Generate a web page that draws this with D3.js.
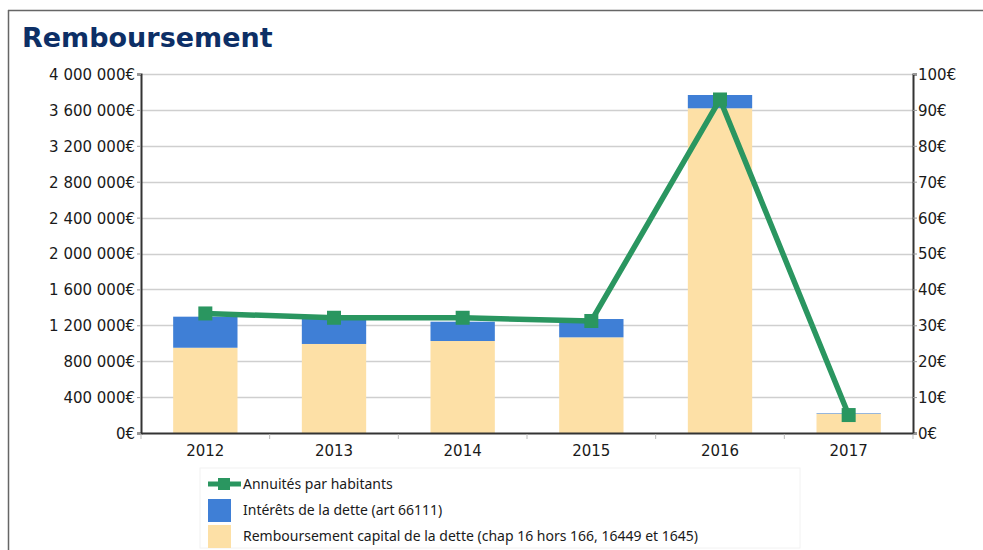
<!DOCTYPE html>
<html>
<head>
<meta charset="utf-8">
<script src="https://cdn.jsdelivr.net/npm/d3@7"></script>
<style>
  body { margin: 0; background: #fff; }
  svg { display: block; }
</style>
</head>
<body>
<div id="chart"></div>
<script>
const years = ["2012", "2013", "2014", "2015", "2016", "2017"];
const capital = [950000, 992000, 1025000, 1066000, 3618000, 215000];
const interets = [346000, 278000, 215000, 204000, 148000, 6000];
const annuites = [33.3, 32.1, 32.1, 31.2, 92.9, 5.0];
const leftTicks = [0, 400000, 800000, 1200000, 1600000, 2000000, 2400000, 2800000, 3200000, 3600000, 4000000];
const rightTicks = [0, 10, 20, 30, 40, 50, 60, 70, 80, 90, 100];
const legendLabels = ["Annuités par habitants", "Intérêts de la dette (art 66111)", "Remboursement capital de la dette (chap 16 hors 166, 16449 et 1645)"];

const colCapital = "#fde0a6";
const colInterets = "#3f7fd6";
const colLine = "#2a9660";

const width = 983, height = 550;
const margin = {top: 74, right: 70, bottom: 117, left: 141};

const fr = d3.formatLocale({decimal: ",", thousands: "\u00a0", grouping: [3], currency: ["", "€"]});
const fmt = fr.format(",d");

const svg = d3.select("#chart").append("svg")
    .attr("width", width)
    .attr("height", height);

// frame lines (top + left)
svg.append("line").attr("x1", 8).attr("x2", width).attr("y1", 10.5).attr("y2", 10.5)
    .attr("stroke", "#666").attr("stroke-width", 1.5);
svg.append("line").attr("x1", 8.5).attr("x2", 8.5).attr("y1", 10).attr("y2", height)
    .attr("stroke", "#666").attr("stroke-width", 1.5);

svg.append("text")
    .attr("x", 22).attr("y", 47)
    .attr("font-family", "DejaVu Sans")
    .attr("font-weight", "bold")
    .attr("font-size", 27)
    .attr("fill", "#0d2f66")
    .text("Remboursement");

const x = d3.scaleBand()
    .domain(years)
    .range([margin.left, width - margin.right])
    .paddingInner(0.5)
    .paddingOuter(0.25);

const y = d3.scaleLinear()
    .domain([0, 4000000])
    .range([height - margin.bottom, margin.top]);

const y2 = d3.scaleLinear()
    .domain([0, 100])
    .range([height - margin.bottom, margin.top]);

// grid
svg.append("g")
    .selectAll("line")
    .data(leftTicks.slice(1))
    .join("line")
    .attr("x1", margin.left).attr("x2", width - margin.right)
    .attr("y1", d => Math.round(y(d)) + 0.5).attr("y2", d => Math.round(y(d)) + 0.5)
    .attr("stroke", "#cfcfcf").attr("stroke-width", 1.5);

// bars
const bars = svg.append("g");
bars.selectAll("rect.cap")
    .data(years)
    .join("rect")
    .attr("class", "cap")
    .attr("x", d => x(d))
    .attr("width", x.bandwidth())
    .attr("y", (d, i) => y(capital[i]))
    .attr("height", (d, i) => y(0) - y(capital[i]))
    .attr("fill", colCapital);
bars.selectAll("rect.int")
    .data(years)
    .join("rect")
    .attr("class", "int")
    .attr("x", d => x(d))
    .attr("width", x.bandwidth())
    .attr("y", (d, i) => y(capital[i] + interets[i]))
    .attr("height", (d, i) => y(capital[i]) - y(capital[i] + interets[i]))
    .attr("fill", colInterets);

// axes
const leftAxis = svg.append("g")
    .attr("transform", `translate(${margin.left},0)`)
    .call(d3.axisLeft(y).tickValues(leftTicks).tickFormat(d => fmt(d) + "€").tickSize(4).tickPadding(2));
const rightAxis = svg.append("g")
    .attr("transform", `translate(${width - margin.right},0)`)
    .call(d3.axisRight(y2).tickValues(rightTicks).tickFormat(d => d + "€").tickSize(4).tickPadding(1));
const bottomAxis = svg.append("g")
    .attr("transform", `translate(0,${height - margin.bottom})`)
    .call(d3.axisBottom(x).tickSize(0).tickPadding(12));

[leftAxis, rightAxis, bottomAxis].forEach(a => {
    a.selectAll("text")
        .attr("font-family", "DejaVu Sans")
        .attr("font-size", 15)
        .attr("fill", "#1a1a1a");
    a.select(".domain").attr("stroke", "#333").attr("stroke-width", 2);
    a.selectAll(".tick line").attr("stroke", "#999");
});
leftAxis.selectAll(".tick text").attr("dy", "0.36em");
rightAxis.selectAll(".tick text").attr("dy", "0.36em");

// separator ticks between categories
svg.append("g")
    .selectAll("line")
    .data(d3.range(years.length + 1))
    .join("line")
    .attr("x1", i => margin.left + i * x.step())
    .attr("x2", i => margin.left + i * x.step())
    .attr("y1", y(0) + 1).attr("y2", y(0) + 6)
    .attr("stroke", "#bbb");

// line series
const line = d3.line()
    .x((d, i) => x(years[i]) + x.bandwidth() / 2)
    .y(d => y2(d));
svg.append("path")
    .datum(annuites)
    .attr("d", line)
    .attr("fill", "none")
    .attr("stroke", colLine)
    .attr("stroke-width", 5.5)
    .attr("stroke-linejoin", "round");
svg.append("g")
    .selectAll("rect")
    .data(annuites)
    .join("rect")
    .attr("x", (d, i) => x(years[i]) + x.bandwidth() / 2 - 7)
    .attr("y", d => y2(d) - 7)
    .attr("width", 14).attr("height", 14)
    .attr("fill", colLine);

// legend
const lg = svg.append("g").attr("transform", "translate(200,468)");
lg.append("rect")
    .attr("x", 0).attr("y", 0).attr("width", 600).attr("height", 80)
    .attr("fill", "#fff").attr("stroke", "#f2f2f2");
const rows = lg.selectAll("g.row")
    .data(legendLabels)
    .join("g")
    .attr("class", "row")
    .attr("transform", (d, i) => `translate(8,${16 + i * 26})`);
rows.each(function (d, i) {
    const r = d3.select(this);
    if (i === 0) {
        r.append("line").attr("x1", 0).attr("x2", 33).attr("y1", 0).attr("y2", 0)
            .attr("stroke", colLine).attr("stroke-width", 5);
        r.append("rect").attr("x", 10).attr("y", -6).attr("width", 12).attr("height", 12).attr("fill", colLine);
    } else {
        r.append("rect").attr("x", 0).attr("y", -11).attr("width", 23).attr("height", 23)
            .attr("fill", i === 1 ? colInterets : colCapital);
    }
    r.append("text")
        .attr("x", 35).attr("y", 5)
        .attr("font-family", "Noto Sans")
        .attr("font-size", 14)
        .attr("fill", "#1a1a1a")
        .text(d);
});
</script>
</body>
</html>
